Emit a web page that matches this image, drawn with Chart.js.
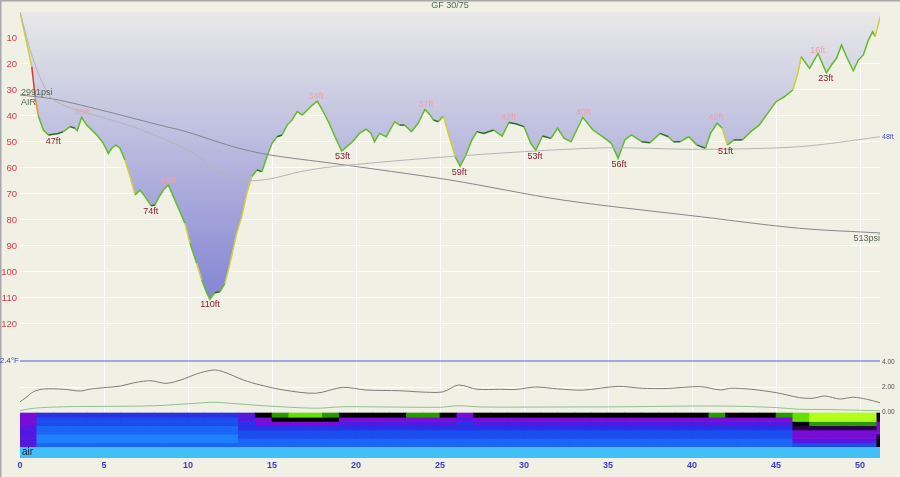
<!DOCTYPE html>
<html>
<head>
<meta charset="utf-8">
<script src="https://cdn.jsdelivr.net/npm/chart.js@4.4.1/dist/chart.umd.min.js"></script>
<style>
    html, body { margin: 0; padding: 0; background: #f1f0e5; }
    #caja { width: 900px; height: 477px; position: relative; }
</style>
</head>
<body>
<div id="caja"><canvas id="perfil"></canvas></div>
<script>
const profileTime = [0, 0.4, 0.7, 0.9, 1.09, 1.39, 1.69, 2.0, 2.28, 2.58,
    2.98, 3.27, 3.41, 3.67, 3.97, 4.37, 4.66, 4.96, 5.26, 5.46,
    5.71, 5.95, 6.25, 6.55, 6.85, 7.14, 7.44, 7.8, 8.04, 8.23,
    8.53, 8.83, 9.13, 9.52, 9.82, 10.12, 10.52, 10.81, 11.11, 11.3,
    11.6, 11.9, 12.2, 12.5, 12.9, 13.2, 13.5, 13.8, 14.1, 14.4,
    14.7, 15.0, 15.3, 15.6, 15.9, 16.2, 16.5, 16.8, 17.1, 17.4,
    17.7, 18.0, 18.4, 18.75, 19.15, 19.45, 19.8, 20.2, 20.6, 20.9,
    21.1, 21.4, 21.8, 22.3, 22.6, 22.9, 23.3, 23.7, 24.1, 24.4,
    24.6, 24.9, 25.2, 25.6, 25.9, 26.2, 26.5, 26.9, 27.2, 27.6,
    28.2, 28.7, 29.1, 29.5, 30.0, 30.4, 30.7, 31.1, 31.6, 32.0,
    32.4, 32.8, 33.5, 34.1, 34.7, 35.2, 35.6, 36.0, 36.4, 37.0,
    37.5, 38.1, 38.6, 38.9, 39.3, 39.8, 40.3, 40.8, 41.1, 41.5,
    41.8, 42.1, 42.5, 43.0, 43.5, 44.0, 44.5, 45.0, 45.5, 46.0,
    46.3, 46.5, 47.0, 47.5, 48.0, 48.3, 48.6, 48.9, 49.2, 49.6,
    49.9, 50.2, 50.5, 50.75, 50.9, 51.2];
const profileDepth = [0, 12, 21, 32.6, 40, 45.4, 47.3, 47, 46.7, 46,
    44.1, 44.7, 45.6, 40.5, 43.5, 46, 48, 50.5, 54.4, 52.4,
    51.2, 52.4, 57, 63.3, 70.4, 68.5, 71, 74.5, 74.2, 71.7,
    68.5, 66.5, 71, 76.8, 81.3, 89, 96.7, 103, 108, 110.5,
    108, 107.6, 104.4, 96.7, 85, 78.7, 69.7, 63.3, 60.8, 61.4,
    55.6, 50.5, 48, 47.3, 43.5, 41.5, 38.3, 39.6, 37.7, 35.8,
    34.3, 37.7, 42.8, 48, 53.5, 51.8, 49.9, 46.7, 45.1, 46.7,
    49.9, 46.7, 48, 42.2, 43.5, 43.5, 46, 42.8, 37.5, 39.5,
    41.5, 42.2, 40, 49.2, 55.6, 59.3, 55.6, 49.2, 46, 46.7,
    45.4, 47.7, 42.5, 43, 44.1, 50.5, 53.2, 47.7, 48.6, 44.7,
    48.6, 49.9, 40.5, 45.4, 48, 50.5, 56.3, 49.2, 47.3, 49.9,
    50.3, 46.7, 48, 49.9, 49.9, 48, 51.2, 52.4, 46.7, 42.8,
    44.7, 51.2, 49.2, 49.2, 46, 43.5, 39, 34.5, 32.6, 30,
    23.6, 17.2, 21.7, 15.9, 23.4, 20.4, 17.8, 12.7, 17.2, 22.6,
    18.5, 16.5, 10.8, 7.6, 9.5, 1.8];

//Profundidad media
const meanTime = [0, 0.8, 1.8, 2.8, 4.8, 6.7, 8.7, 10.3, 11.7, 13.1, 14.7, 16.7, 18.6, 25.6, 34.5, 40.5, 46.4, 51.2];
const meanDepth = [0, 18.5, 32.6, 36.4, 40.3, 44.1, 49.2, 54.3, 60.8, 64.6, 64.4, 61.4, 59.5, 55.6, 52.3, 52.8, 51.8, 48];

//Presión de la botella (psi)
const pressTime = [0, 2.0, 4.8, 8.3, 9.9, 12.7, 14.9, 18.6, 25.6, 32.3, 40.5, 46.4, 51.2];
const pressPsi = [2991, 2919, 2722, 2452, 2332, 2062, 1913, 1764, 1464, 1105, 805, 597, 513];
const gasName = "AIR";

//Temperatura
const tempTime = [0, 51.2];
const tempF = [32.4, 32.4];

//Presiones parciales
const pn2Time = [0, 0.3, 0.8, 1.4, 2.6, 3.6, 4.2, 5.2, 6.0, 6.9, 7.8, 8.7, 9.7, 10.5, 11.5, 12.1,
    13.3, 14.3, 15.7, 17.6, 19.2, 20.6, 22.6, 24.2, 25.2, 26.1, 27.2, 28.6, 29.5, 30.7, 32.0,
    33.5, 35.6, 37.0, 38.5, 40.5, 41.7, 42.3, 43.5, 45.0, 46.4, 47.2, 47.9, 48.8, 49.6, 50.4, 51.2];
const pn2Bar = [0.82, 1.1, 1.62, 1.84, 1.82, 1.68, 1.84, 1.97, 2.08, 2.37, 2.5, 2.29, 2.62, 3.04, 3.36, 3.22,
    2.56, 2.16, 1.76, 1.5, 1.97, 1.76, 1.7, 1.58, 1.62, 2.16, 1.82, 1.82, 1.8, 2.0, 1.85,
    1.75, 2.05, 1.9, 1.88, 2.03, 1.76, 1.9, 1.82, 1.55, 1.15, 1.1, 1.28, 1.04, 1.18, 1.02, 0.74];
const po2Time = [0, 0.8, 2.6, 5.0, 8.0, 10.5, 11.5, 12.5, 14.5, 17.6, 19.2, 22.0, 25.0, 26.1, 27.5, 32.0, 36.0, 40.5, 43.0, 45.0, 46.4, 48.0, 51.2];
const po2Bar = [0.1, 0.3, 0.42, 0.45, 0.5, 0.7, 0.78, 0.7, 0.5, 0.3, 0.42, 0.4, 0.38, 0.5, 0.4, 0.4, 0.42, 0.48, 0.45, 0.35, 0.22, 0.2, 0.1];

//Etiquetas de máximos y mínimos
const minTimes = [1.98, 7.78, 11.31, 19.2, 26.15, 30.65, 35.65, 42.0, 47.96];
const minDepths = [47, 74, 110, 53, 59, 53, 56, 51, 23];
const maxTimes = [3.67, 8.83, 17.62, 24.15, 29.07, 33.53, 41.43, 47.48];
const maxDepths = [40, 66, 34, 37, 42, 40, 42, 16];

//Ticks
const ticksTiempo = [0, 5, 10, 15, 20, 25, 30, 35, 40, 45, 50];
const ticksProf = [10, 20, 30, 40, 50, 60, 70, 80, 90, 100, 110, 120];
const ticksPP = [0, 2, 4];

//Mapa de saturación de tejidos: una columna por minuto, filas de arriba a abajo (nivel 0-10)
const heatCols = [0.5, 1.5, 2.5, 3.5, 4.5, 5.5, 6.5, 7.5, 8.5, 9.5, 10.5, 11.5, 12.5,
    13.5, 14.5, 15.5, 16.5, 17.5, 18.5, 19.5, 20.5, 21.5, 22.5, 23.5, 24.5, 25.5,
    26.5, 27.5, 28.5, 29.5, 30.5, 31.5, 32.5, 33.5, 34.5, 35.5, 36.5, 37.5, 38.5,
    39.5, 40.5, 41.5, 42.5, 43.5, 44.5, 45.5, 46.5, 47.5, 48.5, 49.5, 50.5, 51.5];
const heatRow0 = [5, 3, 3, 3, 3, 3, 3, 3, 3, 3, 3, 3, 3, 4, 7, 8, 9, 9, 8, 7, 7, 7, 7, 8, 8, 7,
    5, 7, 7, 7, 7, 7, 7, 7, 7, 7, 7, 7, 7, 7, 7, 8, 7, 7, 7, 8, 9, 10, 10, 10, 10, 7];
const heatRow1 = [5, 2, 2, 2, 2, 2, 2, 2, 2, 2, 2, 2, 2, 4, 5, 7, 7, 7, 7, 5, 5, 5, 5, 5, 5, 5,
    4, 5, 5, 5, 5, 5, 5, 5, 5, 5, 5, 5, 5, 5, 5, 5, 5, 5, 5, 5, 9, 10, 10, 10, 10, 6];
const heatRow2 = [5, 2, 2, 2, 2, 2, 2, 2, 2, 2, 2, 2, 2, 3, 5, 5, 5, 5, 5, 4, 4, 4, 4, 4, 4, 4,
    3, 4, 4, 4, 4, 4, 4, 4, 4, 4, 4, 4, 4, 4, 4, 4, 4, 4, 4, 4, 7, 8, 8, 8, 8, 5];
const heatRow3 = [4, 1, 1, 1, 1, 1, 1, 1, 1, 1, 1, 1, 1, 3, 3, 3, 3, 3, 3, 3, 3, 3, 3, 3, 3, 3,
    3, 3, 3, 3, 3, 3, 3, 3, 3, 3, 3, 3, 3, 3, 3, 3, 3, 3, 3, 3, 6, 6, 6, 6, 6, 5];
const heatRow4 = [4, 1, 1, 1, 1, 1, 1, 1, 1, 1, 1, 1, 1, 2, 2, 2, 2, 2, 2, 2, 2, 2, 2, 2, 2, 2,
    2, 2, 2, 2, 2, 2, 2, 2, 2, 2, 2, 2, 2, 2, 2, 2, 2, 2, 2, 2, 5, 5, 5, 5, 5, 5];
const heatRow5 = [4, 0, 0, 0, 0, 0, 0, 0, 0, 0, 0, 0, 0, 2, 2, 2, 2, 2, 2, 2, 2, 2, 2, 2, 2, 2,
    2, 2, 2, 2, 2, 2, 2, 2, 2, 2, 2, 2, 2, 2, 2, 2, 2, 2, 2, 2, 5, 5, 5, 5, 5, 6];
const heatRow6 = [4, 0, 0, 0, 0, 0, 0, 0, 0, 0, 0, 0, 0, 1, 1, 1, 1, 1, 1, 1, 1, 1, 1, 1, 1, 1,
    1, 1, 1, 1, 1, 1, 1, 1, 1, 1, 1, 1, 1, 1, 1, 1, 1, 1, 1, 1, 4, 4, 4, 4, 4, 7];
const heatRow7 = [4, 1, 1, 1, 1, 1, 1, 1, 1, 1, 1, 1, 1, 1, 1, 1, 1, 1, 1, 1, 1, 1, 1, 1, 1, 1,
    1, 1, 1, 1, 1, 1, 1, 1, 1, 1, 1, 1, 1, 1, 1, 1, 1, 1, 1, 1, 2, 2, 2, 2, 2, 7];
const gasSpan = [0, 51.2];
const gasLabel = "air";

//Colores del mapa de calor por nivel
const heatColors = ["#1e80ff", "#1b66f6", "#1a4cee", "#2a30e6", "#5418e0", "#7a0cd8",
    "#28004a", "#000000", "#2a9a00", "#66e000", "#b4ff1a"];

const FUENTE = '"Liberation Sans", Arial, sans-serif';
Chart.defaults.font.family = FUENTE;

function puntos(xs, ys) {
    return xs.map((x, i) => ({ x: x, y: ys[i] }));
}

//Color de la línea según la velocidad vertical (ft/min)
function colorVelocidad(ctx) {
    const dt = ctx.p1.parsed.x - ctx.p0.parsed.x;
    const v = Math.abs(ctx.p1.parsed.y - ctx.p0.parsed.y) / dt;
    if (v < 3) return "#2a6a22";
    if (v < 20) return "#62bb2c";
    if (v < 32) return "#cfcf3a";
    if (v < 55) return "#ec8e2c";
    return "#df3b2a";
}

//Degradado del relleno bajo la superficie
function rellenoPerfil(context) {
    const chart = context.chart;
    const area = chart.chartArea;
    if (!area) return "#c0c0e0";
    const eje = chart.scales.prof;
    const g = chart.ctx.createLinearGradient(0, eje.getPixelForValue(0), 0, eje.getPixelForValue(110));
    g.addColorStop(0, "#e9e9e9");
    g.addColorStop(1, "#8585d4");
    return g;
}

const filasCalor = [heatRow0, heatRow1, heatRow2, heatRow3, heatRow4, heatRow5, heatRow6, heatRow7];
const datasetsCalor = filasCalor.map((fila, r) => ({
    type: "bar",
    yAxisID: "heat",
    grouped: false,
    barPercentage: 1,
    categoryPercentage: 1,
    borderWidth: 0,
    data: fila.map((nivel, c) => ({ x: heatCols[c], y: [7 - r, 8 - r] })),
    backgroundColor: fila.map((nivel) => heatColors[nivel])
}));

//Plugin de fondo
const fondo = {
    id: "fondo",
    beforeDraw(chart) {
        const ctx = chart.ctx;
        ctx.save();
        ctx.fillStyle = "#f1f0e5";
        ctx.fillRect(0, 0, chart.width, chart.height);
        ctx.strokeStyle = "#a8a8a8";
        ctx.lineWidth = 1.5;
        ctx.beginPath();
        ctx.moveTo(0, 0.75);
        ctx.lineTo(chart.width, 0.75);
        ctx.moveTo(0.75, 0);
        ctx.lineTo(0.75, chart.height);
        ctx.stroke();
        ctx.restore();
    }
};

//Plugin de textos
const textos = {
    id: "textos",
    afterDatasetsDraw(chart) {
        const ctx = chart.ctx;
        const x = chart.scales.x;
        const prof = chart.scales.prof;
        const pres = chart.scales.presion;
        const temp = chart.scales.temp;
        const heat = chart.scales.heat;
        const area = chart.chartArea;
        ctx.save();
        ctx.textBaseline = "middle";

        ctx.textAlign = "center";
        ctx.font = "9px " + FUENTE;
        ctx.fillStyle = "#8b1c2c";
        minTimes.forEach((t, i) => {
            ctx.fillText(minDepths[i] + "ft", x.getPixelForValue(t), prof.getPixelForValue(minDepths[i]) + 7);
        });
        ctx.fillStyle = "#f2a0a8";
        maxTimes.forEach((t, i) => {
            ctx.fillText(maxDepths[i] + "ft", x.getPixelForValue(t), prof.getPixelForValue(maxDepths[i]) - 3.5);
        });

        //Presiones de la botella
        ctx.textAlign = "left";
        ctx.fillStyle = "#4e6650";
        ctx.fillText(pressPsi[0] + "psi", x.getPixelForValue(0) + 1, pres.getPixelForValue(pressPsi[0]) - 2);
        ctx.fillText(gasName, x.getPixelForValue(0) + 1, pres.getPixelForValue(pressPsi[0]) + 8);
        ctx.textAlign = "right";
        ctx.fillText(pressPsi[pressPsi.length - 1] + "psi", area.right, pres.getPixelForValue(pressPsi[pressPsi.length - 1]) + 6);

        //Profundidad media final
        ctx.textAlign = "left";
        ctx.font = "7px " + FUENTE;
        ctx.fillStyle = "#5050c8";
        ctx.fillText(meanDepth[meanDepth.length - 1] + "ft", area.right + 2, prof.getPixelForValue(meanDepth[meanDepth.length - 1]));

        //Temperatura
        ctx.textAlign = "right";
        ctx.font = "8px " + FUENTE;
        ctx.fillStyle = "#4545c0";
        ctx.fillText(tempF[0] + "°F", area.left - 1, temp.getPixelForValue(tempF[0]));

        //Gas
        ctx.textAlign = "left";
        ctx.font = "10px " + FUENTE;
        ctx.fillStyle = "#1a1a40";
        ctx.fillText(gasLabel, x.getPixelForValue(0) + 2, (heat.getPixelForValue(0) + area.bottom) / 2);

        //Título
        ctx.textAlign = "center";
        ctx.font = "9px " + FUENTE;
        ctx.fillStyle = "#4f6a58";
        ctx.fillText("GF 30/75", chart.width / 2, 5.5);
        ctx.restore();
    }
};

const lineaSimple = {
    type: "line",
    pointRadius: 0,
    fill: false,
    tension: 0.3,
    borderWidth: 1
};

//2. Creamos la gráfica
const grafica = new Chart(document.getElementById("perfil"), {
    type: "line",
    data: {
        datasets: [
            Object.assign({}, lineaSimple, { yAxisID: "prof", data: puntos(meanTime, meanDepth), borderColor: "#b4b4b8" }),
            Object.assign({}, lineaSimple, { yAxisID: "presion", data: puntos(pressTime, pressPsi), borderColor: "#86868c" }),
            Object.assign({}, lineaSimple, { yAxisID: "temp", data: puntos(tempTime, tempF), borderColor: "#5a5ad0", tension: 0 }),
            Object.assign({}, lineaSimple, { yAxisID: "pp", data: puntos(pn2Time, pn2Bar), borderColor: "#7c7c7c" }),
            Object.assign({}, lineaSimple, { yAxisID: "pp", data: puntos(po2Time, po2Bar), borderColor: "#92c092" }),
            //Línea del perfil coloreada por velocidad
            {
                type: "line",
                yAxisID: "prof",
                data: puntos(profileTime, profileDepth),
                borderColor: "#62bb2c",
                borderWidth: 1.5,
                pointRadius: 0,
                tension: 0,
                fill: false,
                segment: { borderColor: colorVelocidad }
            },
            //Relleno con degradado (sin segmentos para evitar costuras)
            {
                type: "line",
                yAxisID: "prof",
                data: puntos(profileTime, profileDepth),
                borderWidth: 0,
                pointRadius: 0,
                tension: 0,
                fill: "origin",
                backgroundColor: rellenoPerfil
            },
            {
                type: "line",
                yAxisID: "heat",
                data: puntos(gasSpan, [0, 0]),
                borderWidth: 0,
                pointRadius: 0,
                fill: "start",
                backgroundColor: "#42bff7"
            }
        ].concat(datasetsCalor)
    },
    options: {
        responsive: true,
        maintainAspectRatio: false,
        animation: false,
        events: [],
        layout: { padding: { top: 12, left: 0, right: 0, bottom: 0 } },
        plugins: {
            legend: { display: false },
            tooltip: { enabled: false }
        },
        scales: {
            x: {
                type: "linear",
                offset: false,
                min: 0,
                max: 51.19,
                afterBuildTicks: (s) => { s.ticks = ticksTiempo.map((v) => ({ value: v })); },
                afterFit: (s) => { s.height = 19; },
                grid: {
                    offset: false,
                    color: (c) => (c.tick && c.tick.value === 0) ? "rgba(0,0,0,0)" : "rgba(255,255,255,0.9)",
                    drawTicks: false
                },
                border: { display: false },
                ticks: { color: "#3b3bc6", font: { size: 9, weight: "bold" }, padding: 2, maxRotation: 0 }
            },
            prof: {
                axis: "y",
                position: "left",
                reverse: true,
                min: 0,
                max: 171.54, // 2.6 px por pie
                afterBuildTicks: (s) => { s.ticks = ticksProf.map((v) => ({ value: v })); },
                afterFit: (s) => { s.width = 20; },
                grid: { color: "rgba(255,255,255,0.9)", drawTicks: false },
                border: { display: false },
                ticks: { color: "#d83a4c", font: { size: 9.5 }, padding: 3 }
            },
            pp: {
                axis: "y",
                position: "right",
                min: -3.68,
                max: 32,
                afterBuildTicks: (s) => { s.ticks = ticksPP.map((v) => ({ value: v })); },
                afterFit: (s) => { s.width = 20; },
                grid: {
                    color: (c) => (c.tick && c.tick.value === 2) ? "rgba(255,255,255,0.9)" : "rgba(0,0,0,0)",
                    drawTicks: false
                },
                border: { display: false },
                ticks: { color: "#505050", font: { size: 6.5 }, padding: 2, callback: (v) => Number(v).toFixed(2) }
            },
            presion: { axis: "y", display: false, min: -3528.5, max: 4481.7 },
            temp: { axis: "y", display: false, min: 31.43, max: 35.89 },
            heat: { axis: "y", display: false, min: -2.588, max: 102.35 }
        }
    },
    plugins: [fondo, textos]
});
</script>
</body>
</html>
